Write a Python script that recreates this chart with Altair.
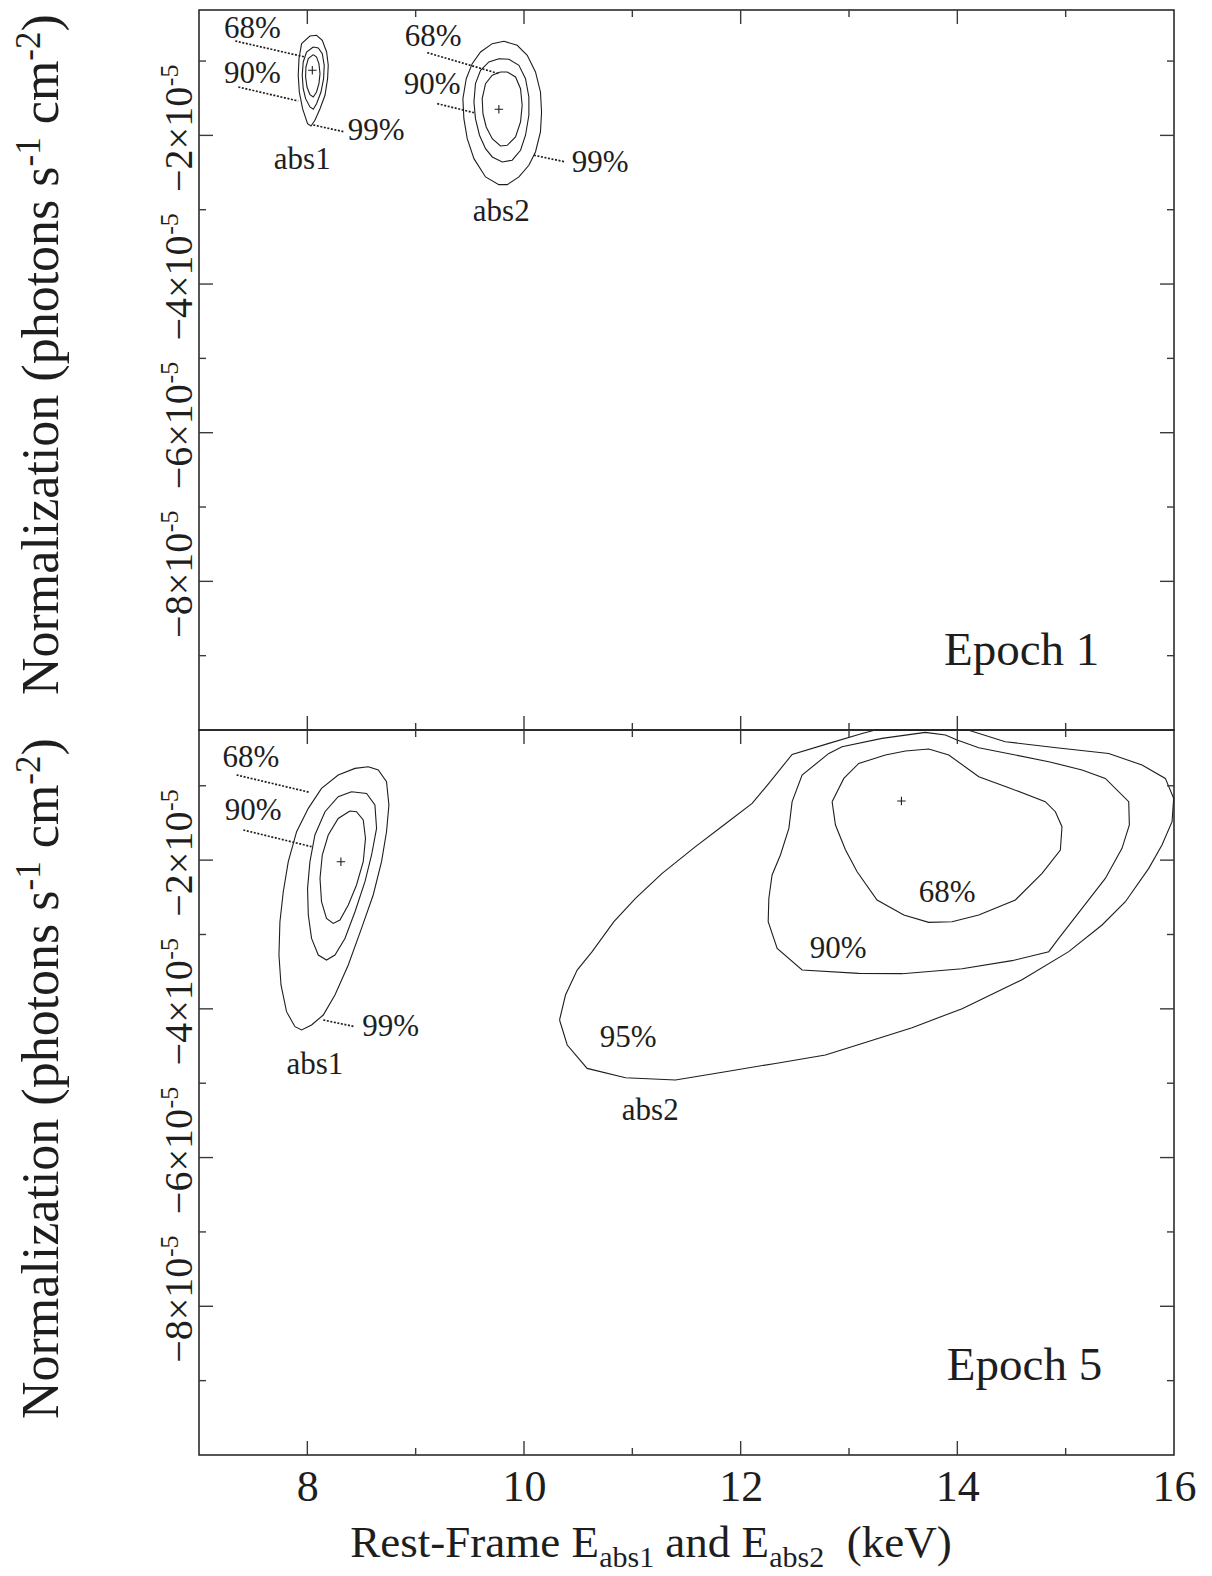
import altair as alt
import pandas as pd

# ---------------------------------------------------------------- data
UNIT = 1e-5  # y values below are in units of 1e-5 photons s^-1 cm^-2
X_DOMAIN = [7, 16]
Y_DOMAIN_TOP = [-10.0, -0.313]
Y_DOMAIN_BOTTOM = [-10.0, -0.25]

X_MAJOR_TICKS = [8, 10, 12, 14]
X_MINOR_TICKS = [9, 11, 13, 15]
X_TICK_LABELS = [8, 10, 12, 14, 16]
Y_MAJOR_TICKS = [-2, -4, -6, -8]
Y_MINOR_TICKS = [-1, -3, -5, -7, -9]
Y_TICK_MANTISSA = ["−2×10", "−4×10", "−6×10", "−8×10"]
Y_TICK_EXPONENT = "-5"
Y_TITLE_PARTS = ["Normalization (photons s", "-1", "cm", "-2", ")"]
X_TITLE_PARTS = ["Rest-Frame E", "abs1", "and E", "abs2", "(keV)"]

# Epoch 1, abs1
E1_ABS1_99_X = [7.947, 7.923, 7.916, 7.926, 7.956, 8.002, 8.034, 8.070, 8.117, 8.163, 8.187, 8.193, 8.178, 8.138, 8.085, 8.024]
E1_ABS1_99_Y = [-0.766, -0.968, -1.191, -1.416, -1.641, -1.842, -1.873, -1.797, -1.641, -1.460, -1.237, -1.057, -0.878, -0.721, -0.653, -0.663]
E1_ABS1_90_X = [8.055, 7.993, 7.962, 7.953, 7.962, 7.984, 8.024, 8.055, 8.085, 8.126, 8.150, 8.156, 8.138, 8.101]
E1_ABS1_90_Y = [-0.811, -0.878, -1.012, -1.191, -1.372, -1.506, -1.618, -1.649, -1.573, -1.416, -1.237, -1.057, -0.901, -0.824]
E1_ABS1_68_X = [8.055, 8.009, 7.987, 7.984, 7.997, 8.024, 8.055, 8.085, 8.107, 8.117, 8.107, 8.085]
E1_ABS1_68_Y = [-0.914, -0.968, -1.080, -1.214, -1.349, -1.452, -1.483, -1.416, -1.304, -1.170, -1.035, -0.945]
# Epoch 1, abs2
E1_ABS2_99_X = [9.815, 9.707, 9.599, 9.522, 9.467, 9.436, 9.445, 9.476, 9.538, 9.645, 9.768, 9.845, 9.953, 10.045, 10.106, 10.152, 10.162, 10.152, 10.106, 10.030, 9.937]
E1_ABS2_99_Y = [-0.734, -0.766, -0.878, -1.035, -1.237, -1.506, -1.775, -2.044, -2.313, -2.559, -2.663, -2.663, -2.559, -2.402, -2.223, -1.954, -1.685, -1.416, -1.147, -0.922, -0.788]
E1_ABS2_90_X = [9.768, 9.676, 9.599, 9.552, 9.538, 9.552, 9.589, 9.645, 9.707, 9.799, 9.891, 9.968, 10.014, 10.045, 10.045, 10.014, 9.953, 9.861]
E1_ABS2_90_Y = [-0.968, -1.012, -1.124, -1.304, -1.550, -1.775, -1.998, -2.178, -2.290, -2.357, -2.334, -2.200, -1.998, -1.729, -1.483, -1.237, -1.057, -0.976]
E1_ABS2_68_X = [9.783, 9.707, 9.645, 9.614, 9.621, 9.651, 9.707, 9.783, 9.845, 9.922, 9.968, 9.983, 9.968, 9.922, 9.845]
E1_ABS2_68_Y = [-1.147, -1.191, -1.304, -1.506, -1.708, -1.887, -2.044, -2.142, -2.133, -2.021, -1.819, -1.595, -1.372, -1.214, -1.147]
E1_BEST_X = [8.046, 9.768]
E1_BEST_Y = [-1.124, -1.649]

# Epoch 5, abs1
E5_ABS1_99_X = [8.562, 8.440, 8.285, 8.131, 8.009, 7.901, 7.824, 7.778, 7.747, 7.738, 7.757, 7.808, 7.886, 7.947, 8.039, 8.147, 8.255, 8.378, 8.500, 8.608, 8.685, 8.731, 8.753, 8.731, 8.655]
E5_ABS1_99_Y = [-0.744, -0.766, -0.855, -1.035, -1.304, -1.618, -2.021, -2.425, -2.828, -3.276, -3.679, -4.038, -4.240, -4.284, -4.217, -4.083, -3.814, -3.410, -2.918, -2.469, -2.021, -1.618, -1.259, -0.945, -0.788]
E5_ABS1_90_X = [8.408, 8.285, 8.163, 8.070, 8.024, 8.002, 8.009, 8.039, 8.101, 8.177, 8.255, 8.347, 8.440, 8.532, 8.593, 8.639, 8.624, 8.547]
E5_ABS1_90_Y = [-1.080, -1.147, -1.349, -1.662, -2.021, -2.380, -2.738, -3.053, -3.276, -3.343, -3.276, -3.053, -2.694, -2.290, -1.931, -1.573, -1.259, -1.103]
E5_ABS1_68_X = [8.393, 8.285, 8.193, 8.138, 8.117, 8.131, 8.177, 8.239, 8.301, 8.378, 8.454, 8.516, 8.537, 8.516, 8.454]
E5_ABS1_68_Y = [-1.339, -1.439, -1.662, -1.931, -2.246, -2.559, -2.784, -2.851, -2.805, -2.603, -2.334, -2.021, -1.708, -1.460, -1.349]
# Epoch 5, abs2
E5_ABS2_95_X = [10.328, 10.383, 10.491, 10.629, 10.830, 11.029, 11.275, 11.583, 11.845, 12.106, 12.260, 12.475, 12.814, 13.121, 13.244, 14.106, 14.443, 14.936, 15.397, 15.705, 15.920, 15.997, 15.982, 15.889, 15.767, 15.551, 15.336, 15.028, 14.597, 14.044, 13.582, 13.121, 12.782, 12.321, 11.859, 11.398, 10.937, 10.583, 10.399]
E5_ABS2_95_Y = [-4.150, -3.814, -3.478, -3.231, -2.828, -2.515, -2.178, -1.819, -1.528, -1.237, -0.968, -0.578, -0.430, -0.296, -0.250, -0.253, -0.407, -0.492, -0.565, -0.721, -0.901, -1.170, -1.483, -1.797, -2.111, -2.559, -2.872, -3.231, -3.608, -3.998, -4.253, -4.465, -4.621, -4.734, -4.845, -4.957, -4.926, -4.801, -4.486]
E5_ABS2_90_X = [12.814, 12.567, 12.475, 12.445, 12.367, 12.290, 12.260, 12.254, 12.337, 12.567, 13.090, 13.490, 14.044, 14.505, 14.844, 14.936, 15.151, 15.366, 15.520, 15.588, 15.582, 15.366, 15.151, 14.844, 14.536, 14.198, 13.998, 13.890, 13.705, 13.305, 12.936]
E5_ABS2_90_Y = [-0.565, -0.855, -1.214, -1.573, -1.931, -2.200, -2.515, -2.828, -3.187, -3.478, -3.523, -3.527, -3.460, -3.352, -3.231, -3.053, -2.649, -2.246, -1.842, -1.528, -1.214, -0.901, -0.788, -0.676, -0.586, -0.488, -0.384, -0.317, -0.282, -0.363, -0.475]
E5_ABS2_68_X = [12.844, 12.952, 13.090, 13.336, 13.521, 13.736, 13.921, 14.198, 14.475, 14.812, 14.905, 14.966, 14.951, 14.782, 14.536, 14.198, 13.951, 13.736, 13.506, 13.259, 13.075, 12.967, 12.875]
E5_ABS2_68_Y = [-1.214, -0.901, -0.699, -0.586, -0.532, -0.506, -0.586, -0.878, -1.026, -1.214, -1.349, -1.550, -1.864, -2.178, -2.536, -2.738, -2.828, -2.837, -2.738, -2.536, -2.156, -1.860, -1.528]
E5_BEST_X = [8.310, 13.484]
E5_BEST_Y = [-2.021, -1.205]

# contour annotations
E1_LABEL_TEXT = ["68%", "90%", "99%", "abs1", "68%", "90%", "99%", "abs2"]
E1_LABEL_X = [7.492, 7.492, 8.636, 7.953, 9.162, 9.153, 10.703, 9.790]
E1_LABEL_Y = [-0.569, -1.174, -1.940, -2.330, -0.676, -1.322, -2.371, -3.030]
E1_LEADER_X1 = [7.335, 7.363, 8.055, 9.107, 9.199, 10.091]
E1_LEADER_Y1 = [-0.730, -1.349, -1.860, -0.887, -1.573, -2.267]
E1_LEADER_X2 = [7.978, 7.916, 8.347, 9.768, 9.538, 10.383]
E1_LEADER_Y2 = [-0.945, -1.537, -1.954, -1.170, -1.694, -2.357]

E5_LABEL_TEXT = ["68%", "90%", "99%", "abs1", "68%", "90%", "95%", "abs2"]
E5_LABEL_X = [7.478, 7.501, 8.770, 8.069, 13.905, 12.899, 10.962, 11.165]
E5_LABEL_Y = [-0.632, -1.335, -4.240, -4.751, -2.438, -3.191, -4.395, -5.370]
E5_LEADER_X1 = [7.347, 7.409, 8.147]
E5_LEADER_Y1 = [-0.855, -1.595, -4.150]
E5_LEADER_X2 = [8.024, 8.039, 8.440]
E5_LEADER_Y2 = [-1.089, -1.819, -4.240]

EPOCH_TEXT = ["Epoch 1", "Epoch 5"]
EPOCH_X = [14.593, 14.620]
EPOCH_Y = [-9.122, -8.987]

# ---------------------------------------------------------------- style
FONT = "Liberation Serif"
INK = "#1e1e1e"
TICK_INK = "#3a3a3a"
W = 975
H_TOP = 720
H_BOTTOM = 725
MAJOR_LEN = 14
MINOR_LEN = 7


def contour_frame(contours):
    rows = []
    for cid, (xs, ys) in enumerate(contours):
        pts = list(zip(xs, ys)) + [(xs[0], ys[0])]
        for i, (xv, yv) in enumerate(pts):
            rows.append({"cid": cid, "i": i, "x": xv, "y": yv * UNIT})
    return pd.DataFrame(rows)


def build_panel(height, ydom, contours, best, labels, leaders, epoch_idx, bottom, title_y0):
    xsc = alt.Scale(domain=X_DOMAIN, nice=False, zero=False)
    ysc = alt.Scale(domain=[ydom[0] * UNIT, ydom[1] * UNIT], nice=False, zero=False)

    xaxis = None
    if bottom:
        xaxis = alt.Axis(values=X_TICK_LABELS, ticks=False, tickSize=0, domain=False, grid=False,
                         labelFont=FONT, labelFontSize=44, labelColor=INK, labelPadding=10,
                         labelFlush=False, labelOverlap=False, format="d", title=None)

    def X():
        return alt.X("x:Q", scale=xsc, axis=xaxis, title=None)

    def Y():
        return alt.Y("y:Q", scale=ysc, axis=None, title=None)

    layers = []
    layers.append(
        alt.Chart(contour_frame(contours)).mark_line(color=INK, strokeWidth=1.1)
        .encode(x=X(), y=Y(), detail="cid:N", order="i:Q")
    )
    lx1, ly1, lx2, ly2 = leaders
    ldf = pd.DataFrame({"x": lx1, "y": [v * UNIT for v in ly1],
                        "x2": lx2, "y2": [v * UNIT for v in ly2]})
    layers.append(
        alt.Chart(ldf).mark_rule(color=INK, strokeWidth=1.7, strokeDash=[2, 1.6])
        .encode(x=X(), y=Y(), x2="x2:Q", y2="y2:Q")
    )
    bdf = pd.DataFrame({"x": best[0], "y": [v * UNIT for v in best[1]]})
    layers.append(
        alt.Chart(bdf).mark_point(shape="M-1,0L1,0M0,-1L0,1", size=72, filled=False,
                                  color=INK, strokeWidth=1.1, opacity=1)
        .encode(x=X(), y=Y())
    )
    tdf = pd.DataFrame({"x": labels[1], "y": [v * UNIT for v in labels[2]], "t": labels[0]})
    layers.append(
        alt.Chart(tdf).mark_text(font=FONT, fontSize=31, color=INK, align="center", baseline="middle")
        .encode(x=X(), y=Y(), text="t:N")
    )
    edf = pd.DataFrame({"x": [EPOCH_X[epoch_idx]], "y": [EPOCH_Y[epoch_idx] * UNIT],
                        "t": [EPOCH_TEXT[epoch_idx]]})
    layers.append(
        alt.Chart(edf).mark_text(font=FONT, fontSize=47, color=INK, align="center", baseline="alphabetic")
        .encode(x=X(), y=Y(), text="t:N")
    )

    # inward ticks on all four sides
    for vals, ln in ((X_MAJOR_TICKS, MAJOR_LEN), (X_MINOR_TICKS, MINOR_LEN)):
        d = pd.DataFrame({"x": vals})
        layers.append(alt.Chart(d).mark_rule(color=TICK_INK, strokeWidth=1.4)
                      .encode(x=X(), y=alt.value(0), y2=alt.value(ln)))
        layers.append(alt.Chart(d).mark_rule(color=TICK_INK, strokeWidth=1.4)
                      .encode(x=X(), y=alt.value(height), y2=alt.value(height - ln)))
    for vals, ln in ((Y_MAJOR_TICKS, MAJOR_LEN), (Y_MINOR_TICKS, MINOR_LEN)):
        d = pd.DataFrame({"y": [v * UNIT for v in vals]})
        layers.append(alt.Chart(d).mark_rule(color=TICK_INK, strokeWidth=1.4)
                      .encode(y=Y(), x=alt.value(0), x2=alt.value(ln)))
        layers.append(alt.Chart(d).mark_rule(color=TICK_INK, strokeWidth=1.4)
                      .encode(y=Y(), x=alt.value(W), x2=alt.value(W - ln)))

    # y tick labels (rotated, with superscript exponent)
    ydf = pd.DataFrame({"y": [v * UNIT for v in Y_MAJOR_TICKS], "t": Y_TICK_MANTISSA,
                        "e": [Y_TICK_EXPONENT] * len(Y_MAJOR_TICKS)})
    layers.append(
        alt.Chart(ydf).mark_text(font=FONT, fontSize=40, color=INK, angle=270, align="center",
                                 baseline="alphabetic", dx=-4)
        .encode(y=Y(), x=alt.value(-7), text="t:N")
    )
    layers.append(
        alt.Chart(ydf).mark_text(font=FONT, fontSize=26, color=INK, angle=270, align="center",
                                 baseline="alphabetic", dx=60)
        .encode(y=Y(), x=alt.value(-21), text="e:N")
    )

    # y title pieces (rotated, reading upwards)
    fs_main, fs_sup = 52, 35
    base_x, sup_x = -141, -159
    offs = [0, 528.6, 570.8, 634.3, 663.5]
    for k, part in enumerate(Y_TITLE_PARTS):
        sup = k in (1, 3)
        pdf = pd.DataFrame({"t": [part]})
        layers.append(
            alt.Chart(pdf).mark_text(font=FONT, fontSize=fs_sup if sup else fs_main, color=INK,
                                     angle=270, align="left", baseline="alphabetic")
            .encode(x=alt.value(sup_x if sup else base_x), y=alt.value(title_y0 - offs[k]), text="t:N")
        )

    if bottom:
        xpos = [151.3, 400.3, 466.3, 570.3, 647.8]
        for k, part in enumerate(X_TITLE_PARTS):
            sub = k in (1, 3)
            pdf = pd.DataFrame({"t": [part]})
            layers.append(
                alt.Chart(pdf).mark_text(font=FONT, fontSize=30 if sub else 45, color=INK,
                                         align="left", baseline="alphabetic")
                .encode(x=alt.value(xpos[k]), y=alt.value(height + (112 if sub else 102)), text="t:N")
            )

    return alt.layer(*layers).properties(width=W, height=height)


top = build_panel(
    H_TOP, Y_DOMAIN_TOP,
    [(E1_ABS1_99_X, E1_ABS1_99_Y), (E1_ABS1_90_X, E1_ABS1_90_Y), (E1_ABS1_68_X, E1_ABS1_68_Y),
     (E1_ABS2_99_X, E1_ABS2_99_Y), (E1_ABS2_90_X, E1_ABS2_90_Y), (E1_ABS2_68_X, E1_ABS2_68_Y)],
    (E1_BEST_X, E1_BEST_Y),
    (E1_LABEL_TEXT, E1_LABEL_X, E1_LABEL_Y),
    (E1_LEADER_X1, E1_LEADER_Y1, E1_LEADER_X2, E1_LEADER_Y2),
    0, False, 685,
)
bottom = build_panel(
    H_BOTTOM, Y_DOMAIN_BOTTOM,
    [(E5_ABS1_99_X, E5_ABS1_99_Y), (E5_ABS1_90_X, E5_ABS1_90_Y), (E5_ABS1_68_X, E5_ABS1_68_Y),
     (E5_ABS2_95_X, E5_ABS2_95_Y), (E5_ABS2_90_X, E5_ABS2_90_Y), (E5_ABS2_68_X, E5_ABS2_68_Y)],
    (E5_BEST_X, E5_BEST_Y),
    (E5_LABEL_TEXT, E5_LABEL_X, E5_LABEL_Y),
    (E5_LEADER_X1, E5_LEADER_Y1, E5_LEADER_X2, E5_LEADER_Y2),
    1, True, 689,
)

chart = (
    alt.vconcat(top, bottom, spacing=0, bounds="flush")
    .properties(padding={"left": 3, "top": 0, "right": 5, "bottom": 0}, background="white")
    .configure_view(stroke=INK, strokeWidth=1.5)
)

chart.save("out.html", embed_options={"renderer": "svg", "actions": False})
